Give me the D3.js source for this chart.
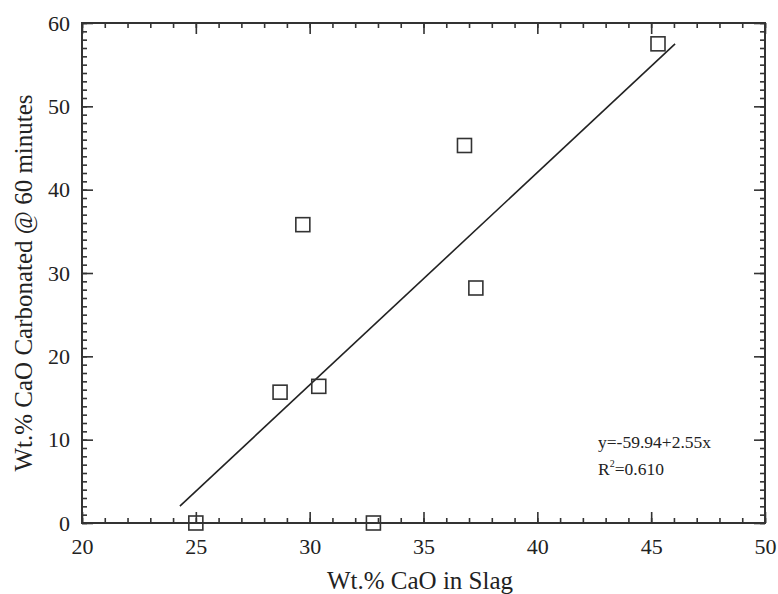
<!DOCTYPE html>
<html>
<head>
<meta charset="utf-8">
<script src="https://cdn.jsdelivr.net/npm/d3@7"></script>
<style>
  html, body { margin: 0; padding: 0; background: #fff; }
  svg { display: block; }
  svg text { font-family: "Liberation Serif", "Times New Roman", serif; fill: #222; }
</style>
</head>
<body>
<svg id="chart" width="778" height="594"></svg>
<script>
// Measured samples: CaO content of slag vs. CaO carbonated after 60 minutes
const caoInSlag      = [45.3, 36.8, 29.7, 37.3, 28.7, 30.4, 25.0, 32.8];
const caoCarbonated  = [57.5, 45.3, 35.8, 28.2, 15.7, 16.4, 0.0, 0.0];

// Linear fit y = a + b x, drawn over the fitted x range
const fitIntercept = -59.94;
const fitSlope = 2.55;
const fitR2 = "0.610";
const fitXRange = [24.3, 46.05];

const xTicks = [20, 25, 30, 35, 40, 45, 50];
const yTicks = [0, 10, 20, 30, 40, 50, 60];
const xMinor = d3.range(20, 51, 1);
const yMinor = d3.range(0, 61, 1);

const margin = { left: 82, right: 13, top: 23, bottom: 71 };
const W = 778, H = 594;
const svg = d3.select("#chart");

const x = d3.scaleLinear().domain([20, 50]).range([margin.left, W - margin.right]);
const y = d3.scaleLinear().domain([0, 60]).range([H - margin.bottom, margin.top]);

const axisColor = "#333";
const serif = "'Liberation Serif', 'Times New Roman', serif";
const g = svg.append("g");

// Frame with inward ticks on all four sides
function styleAxis(sel) {
  sel.attr("font-family", null).style("font-family", serif);
  sel.select(".domain").remove();
  sel.selectAll(".tick line").attr("stroke", axisColor).attr("stroke-width", 1.6);
  sel.selectAll(".tick text").style("font-family", serif).style("font-size", "22px").attr("fill", "#222");
}
const x0 = x.range()[0], x1 = x.range()[1], y0 = y.range()[0], y1 = y.range()[1];

// bottom
g.append("g").attr("transform", `translate(0,${y0})`)
  .call(d3.axisBottom(x).tickValues(xMinor).tickSize(-5).tickFormat(""))
  .call(styleAxis);
g.append("g").attr("transform", `translate(0,${y0})`)
  .call(d3.axisBottom(x).tickValues(xTicks).tickSize(-11).tickPadding(15).tickFormat(d3.format("d")))
  .call(styleAxis);
// top
g.append("g").attr("transform", `translate(0,${y1})`)
  .call(d3.axisTop(x).tickValues(xMinor).tickSize(-5).tickFormat(""))
  .call(styleAxis);
g.append("g").attr("transform", `translate(0,${y1})`)
  .call(d3.axisTop(x).tickValues(xTicks).tickSize(-11).tickFormat(""))
  .call(styleAxis);
// left
g.append("g").attr("transform", `translate(${x0},0)`)
  .call(d3.axisLeft(y).tickValues(yMinor).tickSize(-5).tickFormat(""))
  .call(styleAxis);
g.append("g").attr("transform", `translate(${x0},0)`)
  .call(d3.axisLeft(y).tickValues(yTicks).tickSize(-11).tickPadding(12).tickFormat(d3.format("d")))
  .call(styleAxis);
// right
g.append("g").attr("transform", `translate(${x1},0)`)
  .call(d3.axisRight(y).tickValues(yMinor).tickSize(-5).tickFormat(""))
  .call(styleAxis);
g.append("g").attr("transform", `translate(${x1},0)`)
  .call(d3.axisRight(y).tickValues(yTicks).tickSize(-11).tickFormat(""))
  .call(styleAxis);

g.append("rect")
  .attr("x", x0).attr("y", y1)
  .attr("width", x1 - x0).attr("height", y0 - y1)
  .attr("fill", "none").attr("stroke", axisColor).attr("stroke-width", 2);

// Fit line
const fitLine = d3.line().x(d => x(d)).y(d => y(fitIntercept + fitSlope * d));
g.append("path")
  .datum(fitXRange)
  .attr("d", fitLine)
  .attr("fill", "none")
  .attr("stroke", "#222")
  .attr("stroke-width", 1.6);

// Open square markers
const sq = 14;
g.selectAll("rect.pt")
  .data(caoInSlag.map((v, i) => [v, caoCarbonated[i]]))
  .join("rect")
  .attr("class", "pt")
  .attr("x", d => x(d[0]) - sq / 2)
  .attr("y", d => y(d[1]) - sq / 2)
  .attr("width", sq).attr("height", sq)
  .attr("fill", "none")
  .attr("stroke", "#333")
  .attr("stroke-width", 1.6);

// Fit annotation
const ann = g.append("g").style("font-size", "17.5px");
ann.append("text").attr("x", 598).attr("y", 448)
  .text(`y=${fitIntercept}+${fitSlope}x`);
const r2 = ann.append("text").attr("x", 598).attr("y", 475);
r2.append("tspan").text("R");
r2.append("tspan").attr("dy", -8).style("font-size", "10px").text("2");
r2.append("tspan").attr("dy", 8).text(`=${fitR2}`);

// Axis titles
svg.append("text")
  .attr("x", 420).attr("y", 589)
  .attr("text-anchor", "middle")
  .style("font-size", "25px")
  .text("Wt.% CaO in Slag");

svg.append("text")
  .attr("transform", `translate(32,${(y0 + y1) / 2 + 10}) rotate(-90)`)
  .attr("text-anchor", "middle")
  .style("font-size", "25px")
  .text("Wt.% CaO Carbonated @ 60 minutes");
</script>
</body>
</html>
